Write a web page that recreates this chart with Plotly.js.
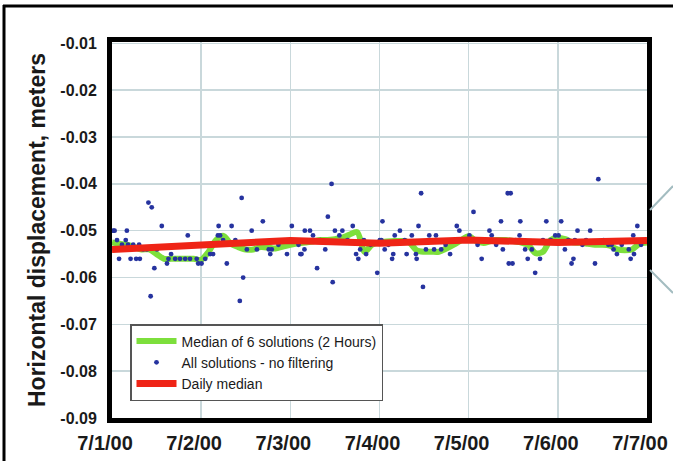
<!DOCTYPE html>
<html>
<head>
<meta charset="utf-8">
<script src="https://cdn.plot.ly/plotly-3.0.1.min.js"></script>
<style>
html,body{margin:0;padding:0;background:#fff;}
#chart{width:673px;height:461px;}
</style>
</head>
<body>
<div id="chart"></div>
<script>
// ---- Data (hours since 7/1/00 00:00, displacement in meters) ----
const allHours = [0.35,0.7,1.35,1.9,2.7,3.7,4.0,4.3,5.0,5.7,6.5,7.5,7.3,8.4,9.4,9.8,10.7,10.4,11.4,12.1,13.4,14.8,15.2,15.9,17.0,18.3,19.7,20.4,21.0,22.8,23.2,
  24.1,25.1,26.4,27.2,28.5,28.7,29.1,29.9,30.9,32.2,33.2,34.4,34.9,35.3,36.3,37.6,39.0,40.6,42.2,43.0,42.6,44.8,47.1,48.4,
  50.2,50.7,51.0,51.8,51.9,53.3,54.1,55.2,56.1,57.4,58.1,59.1,59.4,60.0,61.2,62.0,63.4,64.8,65.7,66.3,66.8,67.8,68.4,69.6,71.4,
  72.1,72.5,72.8,73.4,74.4,75.4,75.7,76.1,77.5,78.8,79.3,80.7,81.8,82.0,82.5,83.2,83.7,84.5,85.4,86.7,87.2,88.6,89.8,91.0,92.8,93.5,94.7,
  96.2,97.3,98.4,99.5,100.6,101.6,102.2,103.4,104.7,105.2,106.5,107.3,106.8,107.8,108.7,109.7,109.9,111.2,111.9,113.0,113.9,115.2,116.0,116.9,118.1,119.3,120.2,
  120.9,121.9,122.8,123.7,124.2,124.6,125.3,126.6,127.6,128.7,130.0,130.9,132.3,133.6,134.5,135.0,135.9,137.2,139.1,139.6,140.3,140.5,141.4,142.4];
const allValues = [-0.050,-0.050,-0.052,-0.056,-0.053,-0.052,-0.050,-0.053,-0.056,-0.053,-0.056,-0.056,-0.053,-0.054,-0.054,-0.044,-0.045,-0.064,-0.058,-0.054,-0.049,-0.057,-0.056,-0.055,-0.056,-0.056,-0.056,-0.051,-0.056,-0.056,-0.057,
  -0.057,-0.056,-0.055,-0.055,-0.051,-0.049,-0.051,-0.052,-0.057,-0.049,-0.052,-0.065,-0.043,-0.060,-0.054,-0.050,-0.054,-0.048,-0.054,-0.054,-0.055,-0.053,-0.055,-0.049,
  -0.053,-0.055,-0.055,-0.054,-0.050,-0.050,-0.051,-0.058,-0.052,-0.054,-0.047,-0.040,-0.061,-0.050,-0.051,-0.050,-0.052,-0.049,-0.055,-0.056,-0.054,-0.052,-0.055,-0.053,-0.059,
  -0.052,-0.052,-0.048,-0.054,-0.053,-0.056,-0.055,-0.051,-0.050,-0.052,-0.055,-0.051,-0.055,-0.056,-0.049,-0.042,-0.062,-0.054,-0.051,-0.054,-0.051,-0.054,-0.053,-0.055,-0.049,-0.050,-0.052,
  -0.051,-0.046,-0.053,-0.056,-0.052,-0.050,-0.051,-0.053,-0.048,-0.054,-0.042,-0.042,-0.057,-0.057,-0.052,-0.051,-0.048,-0.054,-0.056,-0.054,-0.059,-0.056,-0.052,-0.048,-0.052,-0.051,-0.051,
  -0.048,-0.054,-0.052,-0.057,-0.056,-0.052,-0.050,-0.053,-0.052,-0.050,-0.057,-0.039,-0.052,-0.053,-0.053,-0.054,-0.055,-0.053,-0.054,-0.056,-0.051,-0.055,-0.049,-0.053];

const medianHours = [0,2,4,6,8,10,12,14,16,18,20,22,24,26,28,30,32,34,36,38,40,42,44,46,48,50,52,54,56,58,60,62,64,66,68,70,72,74,76,78,80,82,84,86,88,90,92,94,96,98,100,102,104,106,108,110,112,114,116,118,120,122,124,126,128,130,132,134,136,138,140,142,144];
const medianValues = [-0.0525,-0.0528,-0.0530,-0.0535,-0.0540,-0.0540,-0.0550,-0.0560,-0.0560,-0.0560,-0.0560,-0.0560,-0.0562,-0.0545,-0.0520,-0.0511,-0.0528,-0.0535,-0.0540,-0.0540,-0.0535,-0.0536,-0.0538,-0.0534,-0.0530,
  -0.0527,-0.0525,-0.0523,-0.0520,-0.0520,-0.0518,-0.0515,-0.0508,-0.0503,-0.0545,-0.0530,-0.0525,-0.0523,-0.0522,-0.0522,-0.0525,-0.0542,-0.0545,-0.0545,-0.0545,-0.0538,-0.0530,-0.0520,-0.0512,
  -0.0522,-0.0526,-0.0522,-0.0520,-0.0520,-0.0522,-0.0525,-0.0530,-0.0548,-0.0545,-0.0520,-0.0515,-0.0518,-0.0525,-0.0526,-0.0528,-0.0530,-0.0530,-0.0532,-0.0540,-0.0542,-0.0540,-0.0528,-0.0525];

const dailyHours = [0,24,48,72,96,120,144];
const dailyValues = [-0.0540,-0.0530,-0.0521,-0.0527,-0.0520,-0.0525,-0.0521];

const dayTickHours = [0,24,48,72,96,120,144];
const dayTickLabels = ['7/1/00','7/2/00','7/3/00','7/4/00','7/5/00','7/6/00','7/7/00'];
const yTickVals = [-0.01,-0.02,-0.03,-0.04,-0.05,-0.06,-0.07,-0.08,-0.09];
const yTickLabels = ['-0.01','-0.02','-0.03','-0.04','-0.05','-0.06','-0.07','-0.08','-0.09'];

const seriesNames = ['Median of 6 solutions (2 Hours)','All solutions - no filtering','Daily median'];

// ---- helpers ----
const base = Date.UTC(2000,6,1);
function toDate(h){ return new Date(base + h*3600000).toISOString().slice(0,19).replace('T',' '); }

// plot area in pixels
const L=112, R=647, T=42, B=418;
const W=673, H=461;
function pxX(x){ return (x-L)/(R-L); }
function pxY(y){ return (B-y)/(B-T); }

const traces = [
  {x: medianHours.map(toDate), y: medianValues, name: seriesNames[0], type:'scatter', mode:'lines',
   line:{color:'#7ddf3c', width:6, shape:'spline', smoothing:0.8}},
  {x: allHours.map(toDate), y: allValues, name: seriesNames[1], type:'scatter', mode:'markers',
   marker:{color:'#26339f', size:4.8, symbol:'circle'}},
  {x: dailyHours.map(toDate), y: dailyValues, name: seriesNames[2], type:'scatter', mode:'lines',
   line:{color:'#ef2416', width:7}}
];

const layout = {
  width: W, height: H,
  margin:{l:L, r:W-R, t:T, b:H-B, pad:0},
  paper_bgcolor:'#ffffff', plot_bgcolor:'#ffffff',
  showlegend:true,
  font:{family:'Liberation Sans, Arial, sans-serif', color:'#1a1a1a'},
  xaxis:{
    type:'date',
    range:[toDate(0), toDate(144)],
    tickvals: dayTickHours.map(toDate), ticktext: dayTickLabels,
    tickfont:{size:20, family:'Liberation Sans, Arial, sans-serif', weight:'bold', color:'#1a1a1a'},
    showgrid:true, gridcolor:'#c9d8db', gridwidth:1.5,
    showline:true, linecolor:'#000', linewidth:5, mirror:true,
    ticks:'', zeroline:false, ticklabelshift:-7, ticklabelstandoff:3
  },
  yaxis:{
    range:[-0.09, -0.0097],
    tickvals: yTickVals, ticktext: yTickLabels,
    tickfont:{size:16, family:'Liberation Sans, Arial, sans-serif', weight:'bold', color:'#1a1a1a'},
    showgrid:true, gridcolor:'#c9d8db', gridwidth:1.5,
    showline:true, linecolor:'#000', linewidth:5, mirror:true,
    ticks:'', zeroline:false, ticklabelstandoff:7,
    title:{text:'Horizontal displacement, meters', standoff:10,
      font:{size:23, family:'Liberation Sans, Arial, sans-serif', weight:'bold', color:'#1a1a1a'}}
  },
  legend:{
    x: pxX(130), y: pxY(324), xanchor:'left', yanchor:'top',
    bgcolor:'#ffffff', bordercolor:'#555', borderwidth:1.5,
    font:{size:14, family:'Liberation Sans, Arial, sans-serif', color:'#1a1a1a'},
    tracegroupgap:0, itemwidth:40
  },
  shapes:[
    {type:'line', xref:'paper', yref:'paper', x0:pxX(3), x1:pxX(673), y0:pxY(6), y1:pxY(6), line:{color:'#000', width:3}},
    {type:'line', xref:'paper', yref:'paper', x0:pxX(4), x1:pxX(4), y0:pxY(5), y1:pxY(461), line:{color:'#000', width:3}},
    {type:'line', xref:'paper', yref:'paper', x0:pxX(650), x1:pxX(673), y0:pxY(210), y1:pxY(186), line:{color:'#a3bcc0', width:2}},
    {type:'line', xref:'paper', yref:'paper', x0:pxX(650), x1:pxX(673), y0:pxY(270), y1:pxY(293), line:{color:'#a3bcc0', width:2}}
  ]
};

Plotly.newPlot('chart', traces, layout, {displayModeBar:false, staticPlot:true});
</script>
</body>
</html>
